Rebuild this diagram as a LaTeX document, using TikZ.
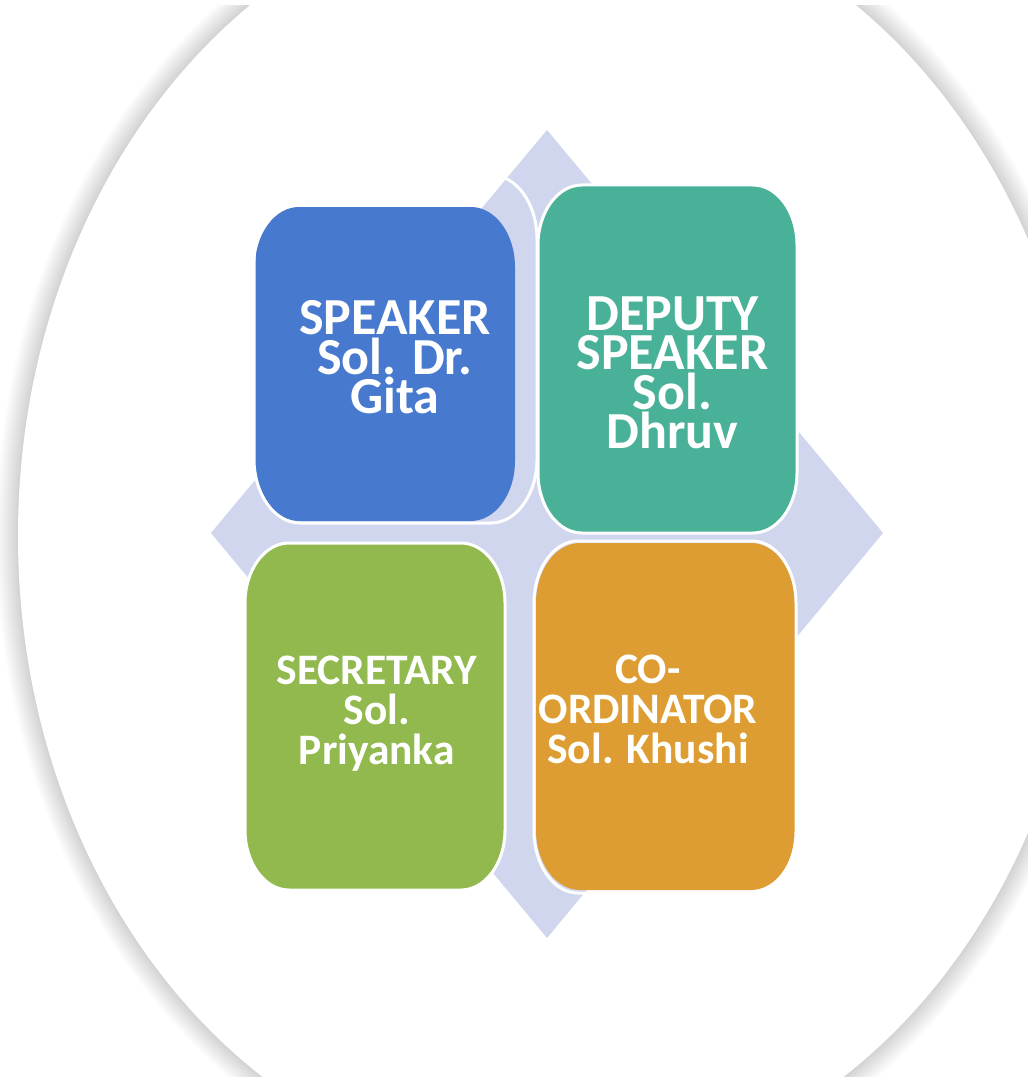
\documentclass[tikz,border=0pt]{standalone}
\usepackage{fontspec}
\setmainfont{Carlito}
\definecolor{cblue}{RGB}{71,121,206}
\definecolor{cteal}{RGB}{72,177,151}
\definecolor{colive}{RGB}{145,185,77}
\definecolor{corange}{RGB}{221,157,51}
\definecolor{clav}{RGB}{208,214,238}
% rounded box with elliptical corners: x1,y1,x2,y2,rx,ry,options
\newcommand\rrbox[7]{%
  \path[#7] ({#1+#5},#2) -- ({#3-#5},#2)
  .. controls ({#3-0.4477*#5},#2) and (#3,{#2+0.4477*#6}) .. (#3,{#2+#6})
  -- (#3,{#4-#6})
  .. controls (#3,{#4-0.4477*#6}) and ({#3-0.4477*#5},#4) .. ({#3-#5},#4)
  -- ({#1+#5},#4)
  .. controls ({#1+0.4477*#5},#4) and (#1,{#4-0.4477*#6}) .. (#1,{#4-#6})
  -- (#1,{#2+#6})
  .. controls (#1,{#2+0.4477*#6}) and ({#1+0.4477*#5},#2) .. ({#1+#5},#2) -- cycle;}
\begin{document}
\begin{tikzpicture}[x=1pt,y=-1pt,
  boxfill/.style={fill=#1},
  boxline/.style={draw=white,line width=3pt},
  bigtxt/.style={text=white,inner sep=0pt,anchor=north,align=center,
     font=\bfseries\fontsize{52}{39.5}\selectfont},
  smalltxt/.style={text=white,inner sep=0pt,anchor=north,align=center,
     font=\bfseries\fontsize{43.5}{40}\selectfont}]
\useasboundingbox (0,0) rectangle (1028,1078);
\fill[white] (0,0) rectangle (1028,1078);
% big ellipse with soft shadow
\begin{scope}
  \clip (0,6) rectangle (1028,1076);
  \foreach \i in {1,...,22}
    \fill[black,opacity=0.0085] (553,536) ellipse [x radius={535+\i}, y radius={644+\i}];
  \fill[white] (553,536) ellipse [x radius=535, y radius=644];
\end{scope}
% diamond
\fill[clav] (547,130) -- (883,533) -- (547,938) -- (211,533) -- cycle;
% boxes
\rrbox{255}{207}{515}{521}{44}{60}{boxfill=cblue}
\rrbox{254}{175}{537}{523}{46}{64}{boxline}
\rrbox{538}{185}{797}{533}{44}{60}{boxfill=cteal,boxline}
\rrbox{245}{543}{505}{890}{44}{60}{boxfill=colive,boxline}
\rrbox{536}{543}{795}{890}{44}{60}{boxfill=corange}
\rrbox{534}{541}{796}{893}{44}{62}{boxline}
% texts
\node[bigtxt] (speaker) at (395,300.3) {SPEAKER\\Sol. Dr.\\Gita};
\node[bigtxt] (deputy) at (672.5,296.5) {DEPUTY\\SPEAKER\\Sol.\\Dhruv};
\node[smalltxt] (secretary) at (376.8,655.5) {SECRETARY\\Sol.\\Priyanka};
\node[smalltxt] (coord) at (648,655) {CO-\\ORDINATOR\\Sol. Khushi};
\end{tikzpicture}
\end{document}
